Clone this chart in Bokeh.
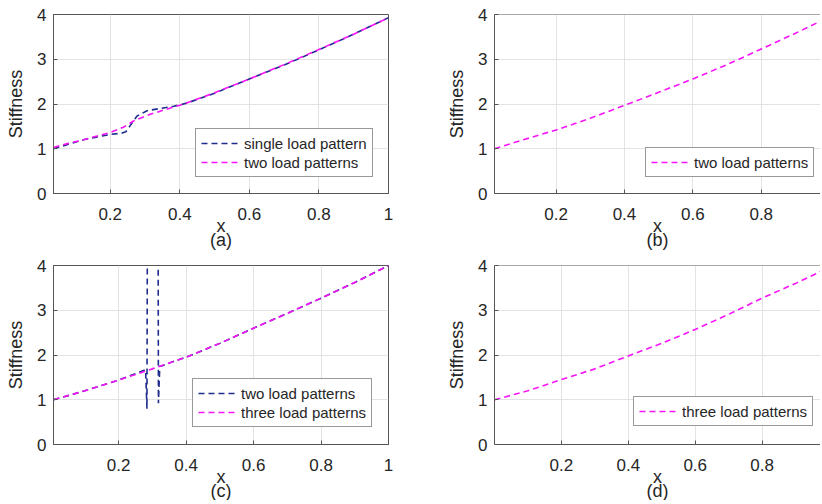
from bokeh.plotting import figure
from bokeh.models import Range1d, Title, Legend, LegendItem, FixedTicker, Span
from bokeh.layouts import gridplot
from bokeh.embed import file_html
from bokeh.resources import INLINE

# ---- data ----
a_single_x = [0.037, 0.08, 0.123, 0.16, 0.2, 0.234, 0.245, 0.277, 0.306, 0.344, 0.383, 0.42, 0.5, 0.6, 0.7, 0.8, 0.9, 1.0]
a_single_y = [1.0, 1.1, 1.2, 1.26, 1.32, 1.35, 1.38, 1.73, 1.85, 1.9, 1.95, 2.02, 2.24, 2.56, 2.87, 3.21, 3.56, 3.93]
a_two_x = [0.037, 0.08, 0.123, 0.16, 0.2, 0.238, 0.267, 0.315, 0.373, 0.4, 0.5, 0.6, 0.7, 0.8, 0.9, 1.0]
a_two_y = [1.03, 1.12, 1.2, 1.28, 1.36, 1.48, 1.62, 1.77, 1.91, 1.97, 2.25, 2.56, 2.88, 3.22, 3.56, 3.93]

b_two_x = [0.02, 0.1, 0.2, 0.3, 0.4, 0.5, 0.6, 0.7, 0.8, 0.9, 1.0]
b_two_y = [1.0, 1.19, 1.42, 1.68, 1.97, 2.26, 2.56, 2.88, 3.23, 3.58, 3.95]

c_two_x = [0.007, 0.1, 0.2, 0.28, 0.284, 0.287, 0.316, 0.318, 0.322, 0.33, 0.36, 0.38, 0.4, 0.5, 0.6, 0.7, 0.8, 0.9, 1.0]
c_two_y = [1.0, 1.2, 1.44, 1.67, 0.8, 10.0, 10.0, 0.92, 1.75, 1.76, 1.85, 1.9, 1.95, 2.26, 2.6, 2.93, 3.27, 3.62, 4.0]
c_three_x = [0.007, 0.1, 0.2, 0.3, 0.4, 0.5, 0.6, 0.7, 0.8, 0.9, 1.0]
c_three_y = [1.0, 1.2, 1.44, 1.69, 1.95, 2.26, 2.6, 2.93, 3.27, 3.62, 4.0]

d_three_x = [0.0, 0.1, 0.2, 0.3, 0.4, 0.5, 0.6, 0.7, 0.8, 0.9, 1.0]
d_three_y = [1.0, 1.2, 1.45, 1.69, 1.98, 2.26, 2.57, 2.91, 3.27, 3.6, 3.95]

x_ticks = [0.2, 0.4, 0.6, 0.8, 1.0]
y_ticks = [0, 1, 2, 3, 4]
tick_labels_x = {0.2: "0.2", 0.4: "0.4", 0.6: "0.6", 0.8: "0.8", 1.0: "1"}

BLUE = "#1f2d8c"
MAG = "#f814f8"
AX = "#555555"
TXT = "#262626"
FONT = "Liberation Sans"


def make_panel(xr, caption, left_border, right_border, top_border, bottom_border,
               fw, fh, series, legend_loc, right_box=True):
    p = figure(frame_width=fw, frame_height=fh, output_backend="svg", toolbar_location=None,
               x_range=Range1d(*xr), y_range=Range1d(0, 4),
               min_border_left=left_border, min_border_right=right_border,
               min_border_top=top_border, min_border_bottom=bottom_border,
               x_axis_label="x", y_axis_label="Stiffness")
    p.background_fill_color = "white"
    p.border_fill_color = "white"
    if right_box:
        p.outline_line_color = AX
        p.outline_line_alpha = 1
    else:
        p.outline_line_color = None
        p.add_layout(Span(location=4, dimension="width", line_color=AX, line_width=1))
    for ax in (p.xaxis[0], p.yaxis[0]):
        ax.axis_line_color = AX
        ax.major_tick_line_color = AX
        ax.major_tick_in = 4
        ax.major_tick_out = 0
        ax.minor_tick_line_color = None
        ax.major_label_text_font = FONT
        ax.major_label_text_font_size = "17px"
        ax.major_label_text_color = TXT
        ax.axis_label_text_font = FONT
        ax.axis_label_text_font_size = "18px"
        ax.axis_label_text_font_style = "normal"
        ax.axis_label_text_color = TXT
    p.xaxis.ticker = FixedTicker(ticks=x_ticks)
    p.xaxis.major_label_overrides = tick_labels_x
    p.yaxis.ticker = FixedTicker(ticks=y_ticks)
    p.xaxis.major_label_standoff = 14
    p.xaxis.axis_label_standoff = -7
    p.yaxis.major_label_standoff = 7
    p.yaxis.axis_label_standoff = 8
    p.xgrid.ticker = FixedTicker(ticks=x_ticks)
    p.ygrid.ticker = FixedTicker(ticks=y_ticks)
    p.grid.grid_line_color = "#e3e3e3"

    items = []
    for xs, ys, color, label in series:
        r = p.line(xs, ys, line_color=color, line_width=1.6, line_dash="6 4")
        items.append(LegendItem(label=label, renderers=[r]))
    leg = Legend(items=items, location=legend_loc)
    leg.label_text_font = FONT
    leg.label_text_font_size = "15px"
    leg.label_text_color = TXT
    leg.glyph_width = 38
    leg.glyph_height = 18
    leg.label_height = 18
    leg.spacing = 1
    leg.padding = 5
    leg.margin = 0
    leg.label_standoff = 5
    leg.border_line_color = "#333333"
    leg.border_line_width = 1
    leg.background_fill_color = "white"
    leg.background_fill_alpha = 1
    p.add_layout(leg, "center")

    t = Title(text=caption, align="center", text_font=FONT, text_font_size="18px",
              text_font_style="normal", text_color=TXT, standoff=-21, offset=0)
    p.add_layout(t, "below")
    return p


pa = make_panel((0.037, 1.0), "(a)", 53, 23, 14, 58, 335, 179,
                [(a_single_x, a_single_y, BLUE, "single load pattern"),
                 (a_two_x, a_two_y, MAG, "two load patterns")], (142, 16))
pb = make_panel((0.02, 0.02 + 326 / 342.0), "(b)", 83, 0, 14, 58, 326, 179,
                [(b_two_x, b_two_y, MAG, "two load patterns")], (151, 16), right_box=False)
pc = make_panel((0.007, 1.0), "(c)", 53, 23, 14, 56, 335, 179,
                [(c_two_x, c_two_y, BLUE, "two load patterns"),
                 (c_three_x, c_three_y, MAG, "three load patterns")], (139, 17))
pd = make_panel((0.0, 326 / 334.5), "(d)", 83, 0, 14, 56, 326, 179,
                [(d_three_x, d_three_y, MAG, "three load patterns")], (139, 18), right_box=False)

grid = gridplot([[pa, pb], [pc, pd]], toolbar_location=None)

open("out.html", "w").write(file_html(grid, INLINE))
